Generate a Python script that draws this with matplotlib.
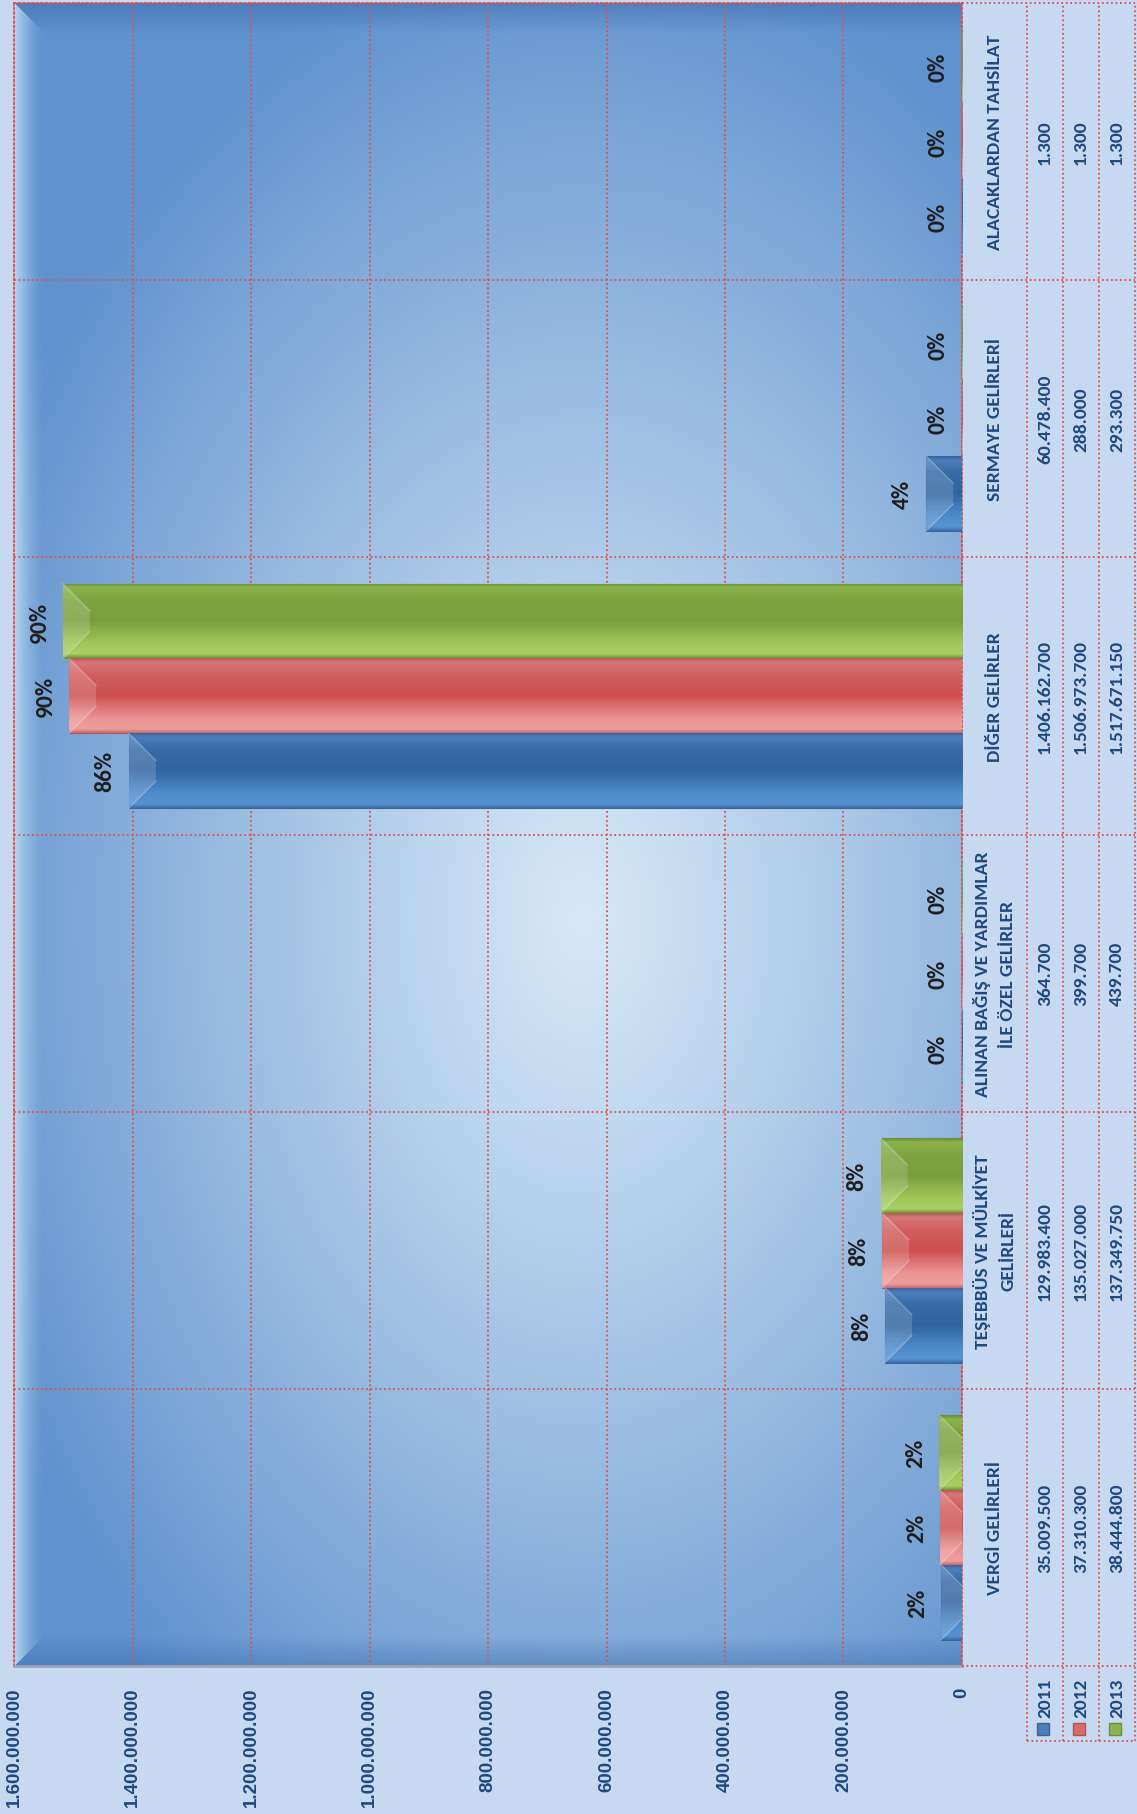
import numpy as np
import matplotlib.pyplot as plt

# data
categories = ["VERGİ GELİRLERİ",
              "TEŞEBBÜS VE MÜLKİYET\nGELİRLERİ",
              "ALINAN BAĞIŞ VE YARDIMLAR\nİLE ÖZEL GELİRLER",
              "DİĞER GELİRLER",
              "SERMAYE GELİRLERİ",
              "ALACAKLARDAN TAHSİLAT"]
years = ["2011", "2012", "2013"]
v2011 = [35009500, 129983400, 364700, 1406162700, 60478400, 1300]
v2012 = [37310300, 135027000, 399700, 1506973700, 288000, 1300]
v2013 = [38444800, 137349750, 439700, 1517671150, 293300, 1300]
series = [v2011, v2012, v2013]
xticks = np.arange(0, 1.6e9 + 1, 2e8)

W, H = 1137, 1815
BG = "#C6D9F0"
RED = "#E0504C"
TXT = "#1F497D"
DOT = (0, (1, 1.5))
FONT = ["Carlito", "Lato", "DejaVu Sans"]


def fmt(v):
    return f"{int(v):,}".replace(",", ".")


fig = plt.figure(figsize=(W / 100, H / 100), dpi=100, facecolor=BG)
ax = fig.add_axes([14 / W, 1 - 1667 / H, 948 / W, 1663 / H])

# plot area background: radial light centre + bevelled frame
h, w = 1663, 948
yy, xx = np.mgrid[0:h, 0:w].astype(float)
d = np.sqrt(((xx / w - 0.6) / 0.7) ** 2 + ((yy / h - 0.55) / 0.6) ** 2)
t = np.clip(d, 0, 1)[..., None] ** 1.1
c_in = np.array([214, 232, 247]) / 255
c_out = np.array([95, 145, 205]) / 255
img = c_in * (1 - t) + c_out * t
b = 30.0
dl, dt, db = xx, yy, h - 1 - yy
m = np.minimum(np.minimum(dl, dt), db)
light = np.array([195, 228, 248]) / 255
dark = np.array([62, 108, 172]) / 255
wl = np.where((dl == m) & (m < b), 0.85 * (1 - dl / b) ** 1.6, 0)[..., None]
wt = np.where((dt == m) & (dl != m) & (m < b), 0.55 * (1 - dt / b), 0)[..., None]
wb = np.where((db == m) & (dl != m) & (m < b), 0.45 * (1 - db / b), 0)[..., None]
img = img * (1 - wl) + light * wl
img = img * (1 - wt) + dark * wt
img = img * (1 - wb) + dark * wb
ax.imshow(img, extent=(0, 1, 0, 1), transform=ax.transAxes, aspect="auto",
          zorder=0, origin="upper")

# bar styling
stops = [0, 0.05, 0.2, 0.5, 0.78, 0.95, 1]
profiles = [
    [(60, 110, 170), (88, 148, 212), (80, 140, 205), (48, 100, 158), (56, 106, 166), (76, 126, 186), (60, 100, 160)],
    [(196, 110, 110), (240, 160, 160), (236, 150, 150), (205, 78, 78), (210, 95, 95), (216, 120, 120), (180, 90, 90)],
    [(118, 150, 60), (172, 208, 102), (160, 200, 90), (118, 158, 58), (124, 164, 64), (140, 180, 76), (108, 140, 54)],
]
base_cols = ["#4A7DBA", "#D96B6B", "#8DB34E"]
edge_cols = ["#3C6699", "#B05555", "#6E8E3A"]

bw = 0.27
offs = [-bw, 0, bw]
yc = np.arange(len(categories)) + 0.5
px = 1.6e9 / 948  # value per pixel
py = 6 / 1663     # category units per pixel
bev = 27

totals = [sum(s) for s in series]
for k, s in enumerate(series):
    prof = np.array(profiles[k]) / 255
    rows = np.linspace(0, 1, 80)
    grad = np.stack([np.interp(rows, stops, prof[:, c]) for c in range(3)], axis=-1)[:, None, :]
    bars = ax.barh(yc + offs[k], s, height=bw, color=base_cols[k],
                   edgecolor=edge_cols[k], linewidth=0.8, zorder=3)
    for rect, v, y in zip(bars, s, yc + offs[k]):
        y0, y1 = y - bw / 2, y + bw / 2
        im = ax.imshow(grad, extent=(0, v, y0, y1), aspect="auto", origin="lower",
                       zorder=3.1, interpolation="bilinear", alpha=0.95)
        im.set_clip_path(rect)
        bl = min(bev, v / px)
        ax.fill([v, v, v - bl * px, v - bl * px],
                [y0, y1, y1 - bl * py, y0 + bl * py],
                color="white", alpha=0.16, lw=0, zorder=3.2)
        ax.plot([v, v - bl * px], [y1, y1 - bl * py], color="white", alpha=0.3, lw=0.8, zorder=3.3)
        ax.plot([v, v - bl * px], [y0, y0 + bl * py], color="white", alpha=0.3, lw=0.8, zorder=3.3)
        pct = round(v / totals[k] * 100)
        ax.annotate(f"{pct}%", xy=(v, y), xytext=(-17, 0), textcoords="offset points",
                    ha="center", va="center", rotation=90, fontsize=17,
                    fontweight="bold", color="#1E1E1E", family=FONT, zorder=5)

ax.set_xlim(1.6e9, 0)
ax.set_ylim(0, len(categories))
ax.set_xticks(xticks)
ax.set_xticklabels([fmt(v) for v in xticks], rotation=90, fontsize=13.5,
                   fontweight="bold", color=TXT, family="Liberation Sans")
ax.set_yticks(range(len(categories) + 1))
ax.set_yticklabels([])
ax.tick_params(length=0)
ax.tick_params(axis="x", pad=15)
ax.grid(True, color=RED, linestyle=DOT, linewidth=1.3)
ax.set_axisbelow(True)
for side in ["top", "left", "right"]:
    ax.spines[side].set_color(RED)
    ax.spines[side].set_linestyle(DOT)
    ax.spines[side].set_linewidth(1.3)
ax.spines["bottom"].set_color("#9AA6B6")
ax.spines["bottom"].set_linewidth(2)

# data table on the right
ylo = -75 * py
tx = fig.add_axes([962 / W, 1 - 1742 / H, 175 / W, 1738 / H])
tx.set_xlim(962, 1137)
tx.set_ylim(ylo, len(categories))
tx.axis("off")
col_x = [1045, 1081, 1117]
lk = dict(color=RED, linestyle=DOT, linewidth=1.3, clip_on=False)
for x in [1027, 1063, 1099, 1135]:
    tx.plot([x, x], [ylo, len(categories)], **lk)
for yb in range(len(categories) + 1):
    tx.plot([962, 1135], [yb, yb], **lk)
tx.plot([1027, 1135], [ylo, ylo], **lk)

for i, name in enumerate(categories):
    tx.text(994.5, yc[i], name, rotation=90, ha="center", va="center",
            fontsize=14, fontweight="bold", color=TXT, family=FONT,
            multialignment="center", linespacing=1.7)
    for k, s in enumerate(series):
        tx.text(col_x[k], yc[i], fmt(s[i]), rotation=90, ha="center", va="center",
                fontsize=14, fontweight="bold", color=TXT, family=FONT)

for k, yr in enumerate(years):
    tx.text(col_x[k], -31 * py, yr, rotation=90, ha="center", va="center",
            fontsize=14, fontweight="bold", color=TXT, family=FONT)
    tx.plot(col_x[k] - 2, -63 * py, marker="s", markersize=9, color=base_cols[k],
            markeredgecolor=edge_cols[k], clip_on=False)

fig.savefig("out.png", dpi=100, facecolor=BG)
